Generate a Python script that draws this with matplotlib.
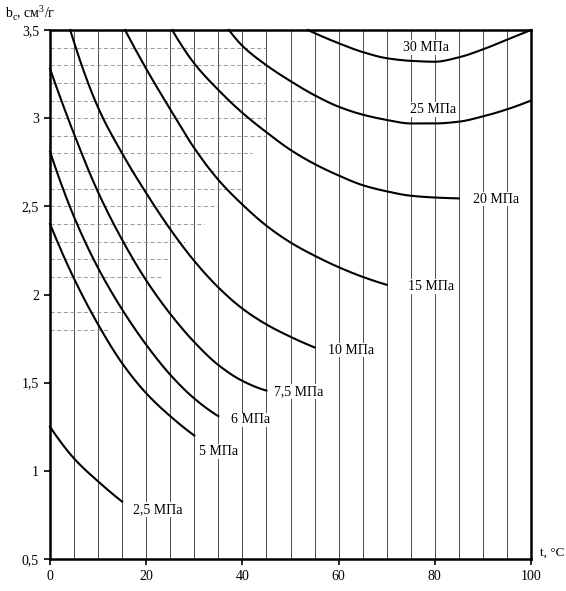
import numpy as np
import matplotlib
matplotlib.use("Agg")
import matplotlib.pyplot as plt

plt.rcParams['font.family'] = ['Liberation Serif', 'DejaVu Serif']
plt.rcParams['mathtext.fontset'] = 'custom'
plt.rcParams['mathtext.rm'] = 'Liberation Serif'

# ---- data ----
t_25 = [0, 5, 10, 15]
b_25 = [1.25, 1.07, 0.94, 0.825]

t_5 = [0, 5, 10, 15, 20, 25, 30]
b_5 = [2.40, 2.09, 1.83, 1.61, 1.44, 1.31, 1.20]

t_6 = [0, 5, 10, 15, 20, 25, 30, 35]
b_6 = [2.81, 2.44, 2.15, 1.915, 1.715, 1.545, 1.41, 1.31]

t_75 = [0, 5, 10, 15, 20, 25, 30, 35, 40, 45]
b_75 = [3.28, 2.91, 2.58, 2.31, 2.08, 1.89, 1.73, 1.60, 1.51, 1.455]

t_10 = [4.2, 10, 15, 20, 25, 30, 35, 40, 45, 50, 55]
b_10 = [3.50, 3.06, 2.80, 2.575, 2.37, 2.19, 2.04, 1.92, 1.83, 1.76, 1.70]

t_15 = [15.6, 20, 25, 30, 35, 40, 45, 50, 55, 60, 65, 70]
b_15 = [3.50, 3.28, 3.05, 2.83, 2.65, 2.51, 2.39, 2.295, 2.22, 2.155, 2.10, 2.055]

t_20 = [25.4, 30, 35, 40, 45, 50, 55, 60, 65, 70, 75, 80, 85]
b_20 = [3.50, 3.31, 3.16, 3.03, 2.92, 2.82, 2.74, 2.675, 2.62, 2.585, 2.56, 2.55, 2.545]

t_25m = [37.2, 40, 45, 50, 55, 60, 65, 70, 75, 80, 85, 90, 95, 100]
b_25m = [3.50, 3.41, 3.30, 3.21, 3.13, 3.065, 3.02, 2.99, 2.97, 2.97, 2.98, 3.01, 3.05, 3.10]

t_30 = [53.6, 60, 65, 70, 75, 80, 85, 90, 95, 100]
b_30 = [3.50, 3.425, 3.375, 3.34, 3.325, 3.32, 3.345, 3.39, 3.445, 3.50]

curve_labels = ['2,5 МПа', '5 МПа', '6 МПа', '7,5 МПа', '10 МПа',
                '15 МПа', '20 МПа', '25 МПа', '30 МПа']
label_t = [22.5, 35, 41.6, 51.8, 62.6, 79.3, 92.8, 79.6, 78.2]
label_b = [0.78, 1.11, 1.29, 1.45, 1.685, 2.045, 2.54, 3.05, 3.40]

x_ticks = [0, 20, 40, 60, 80, 100]
x_ticklabels = ['0', '20', '40', '60', '80', '100']
y_ticks = [0.5, 1, 1.5, 2, 2.5, 3, 3.5]
y_ticklabels = ['0,5', '1', '1,5', '2', '2,5', '3', '3,5']

v_grid = list(range(5, 100, 5))
h_grid = [3.4, 3.3, 3.2, 3.1, 3.0, 2.9, 2.8, 2.7, 2.6, 2.5, 2.4, 2.3, 2.2, 2.1, 1.9, 1.8]
h_grid_end = [45, 45, 45, 55, 45, 45, 42, 40, 40, 35, 32, 28, 25, 23, 15, 12]


def pchip(x, y, xn):
    x = np.asarray(x, float); y = np.asarray(y, float)
    h = np.diff(x); d = np.diff(y) / h
    n = len(x)
    m = np.zeros(n)
    for k in range(1, n - 1):
        if d[k - 1] * d[k] > 0:
            w1 = 2 * h[k] + h[k - 1]; w2 = h[k] + 2 * h[k - 1]
            m[k] = (w1 + w2) / (w1 / d[k - 1] + w2 / d[k])
    m[0] = d[0]; m[-1] = d[-1]
    if n > 2:
        m[0] = ((2 * h[0] + h[1]) * d[0] - h[0] * d[1]) / (h[0] + h[1])
        if np.sign(m[0]) != np.sign(d[0]): m[0] = 0
        m[-1] = ((2 * h[-1] + h[-2]) * d[-1] - h[-1] * d[-2]) / (h[-1] + h[-2])
        if np.sign(m[-1]) != np.sign(d[-1]): m[-1] = 0
    idx = np.clip(np.searchsorted(x, xn) - 1, 0, n - 2)
    hh = h[idx]; s = (xn - x[idx]) / hh
    h00 = 2 * s**3 - 3 * s**2 + 1; h10 = s**3 - 2 * s**2 + s
    h01 = -2 * s**3 + 3 * s**2; h11 = s**3 - s**2
    return h00 * y[idx] + h10 * hh * m[idx] + h01 * y[idx + 1] + h11 * hh * m[idx + 1]


fig = plt.figure(figsize=(5.66, 5.91), dpi=100)
ax = fig.add_axes([50 / 566, 1 - 559 / 591, 481 / 566, 529 / 591])
ax.set_xlim(0, 100)
ax.set_ylim(0.5, 3.5)

for xv in v_grid:
    ax.axvline(xv, color='0.3', lw=0.7, zorder=1)
for yv, xe in zip(h_grid, h_grid_end):
    ax.plot([0, xe], [yv, yv], color='0.55', lw=0.6, dashes=(5, 3), zorder=1)

for tt, bb in [(t_25, b_25), (t_5, b_5), (t_6, b_6), (t_75, b_75), (t_10, b_10),
               (t_15, b_15), (t_20, b_20), (t_25m, b_25m), (t_30, b_30)]:
    xs = np.linspace(tt[0], tt[-1], 300)
    ax.plot(xs, pchip(tt, bb, xs), color='black', lw=1.5, zorder=3, clip_on=False)

for lab, lx, ly in zip(curve_labels, label_t, label_b):
    ax.text(lx, ly, lab, fontsize=10, ha='center', va='center', zorder=4,
            bbox=dict(facecolor='white', edgecolor='none', pad=0.5))

ax.set_xticks(x_ticks)
ax.set_xticklabels(x_ticklabels)
ax.set_yticks(y_ticks)
ax.set_yticklabels(y_ticklabels)
ax.tick_params(direction='out', length=4, width=1.2, labelsize=10, pad=4)
for sp in ax.spines.values():
    sp.set_linewidth(1.8)

fig.text(5 / 566, 1 - 12 / 591, r'b$_\mathregular{c}$, см$^\mathregular{3}$/г',
         fontsize=10, ha='left', va='center')
ax.text(1.018, 0.012, 't, °C', transform=ax.transAxes, fontsize=9.5,
        ha='left', va='center')

fig.savefig('out.png', dpi=100, facecolor='white')
